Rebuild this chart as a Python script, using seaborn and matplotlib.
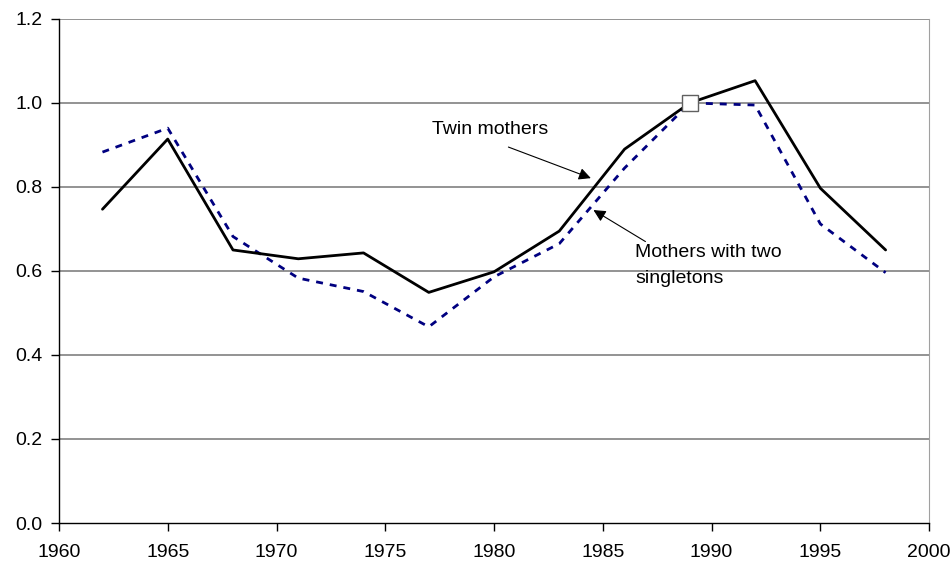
import matplotlib
matplotlib.use("Agg")
import matplotlib.pyplot as plt
import seaborn as sns
import pandas as pd

# data
years = [1962, 1965, 1968, 1971, 1974, 1977, 1980, 1983, 1986, 1989, 1992, 1995, 1998]
twin = [0.747, 0.914, 0.650, 0.629, 0.643, 0.549, 0.598, 0.695, 0.890, 1.0, 1.053, 0.797, 0.650]
singletons = [0.883, 0.940, 0.682, 0.583, 0.551, 0.467, 0.586, 0.665, 0.845, 1.0, 0.995, 0.712, 0.596]
ref_year = [1989]
ref_value = [1.0]
y_ticks = [0, 0.2, 0.4, 0.6, 0.8, 1.0, 1.2]

df = pd.DataFrame({"year": years, "twin": twin, "single": singletons})

sns.set_style("white")
plt.rcParams["font.family"] = ["Liberation Sans", "DejaVu Sans"]
plt.rcParams["text.color"] = "black"
plt.rcParams["xtick.labelcolor"] = "black"
plt.rcParams["ytick.labelcolor"] = "black"

fig = plt.figure(figsize=(9.51, 5.67), dpi=100)
ax = fig.add_axes([0.062, 0.0776, 0.915, 0.889])

for y in y_ticks[1:]:
    ax.axhline(y, color="#808080", lw=1.2, zorder=0)

sns.lineplot(data=df, x="year", y="single", ax=ax, color="#000080", lw=2,
             linestyle=(0, (2.5, 2.5)), zorder=2)
sns.lineplot(data=df, x="year", y="twin", ax=ax, color="black", lw=2, zorder=3)
ax.plot(ref_year, ref_value, marker="s", ms=11, mfc="white", mec="#606060",
        mew=1, ls="none", zorder=4)

ax.set_xlim(1960, 2000)
ax.set_ylim(0, 1.2)
ax.set_xticks(range(1960, 2001, 5))
ax.set_yticks(y_ticks)
ax.set_yticklabels([f"{v:.1f}" for v in y_ticks])
ax.set_xlabel("")
ax.set_ylabel("")
ax.tick_params(axis="both", direction="out", length=6, width=1, color="black",
               labelcolor="black", labelsize=14, left=True, bottom=True)
ax.tick_params(axis="x", pad=9)
ax.tick_params(axis="y", pad=6)

for side in ["left", "bottom"]:
    ax.spines[side].set_color("black")
    ax.spines[side].set_linewidth(1)
ax.spines["right"].set_color("#a0a0a0")
ax.spines["top"].set_visible(False)

arrow = dict(arrowstyle="-|>", color="black", lw=0.8, mutation_scale=18,
             shrinkA=0, shrinkB=0)
ax.text(1977.15, 0.926, "Twin mothers", fontsize=14, va="baseline", ha="left")
ax.annotate("", xy=(1984.45, 0.821), xytext=(1980.66, 0.895), arrowprops=arrow)
ax.text(1986.48, 0.634, "Mothers with two", fontsize=14, va="baseline", ha="left")
ax.text(1986.48, 0.571, "singletons", fontsize=14, va="baseline", ha="left")
ax.annotate("", xy=(1984.57, 0.745), xytext=(1986.96, 0.670), arrowprops=arrow)

fig.savefig("out.png", dpi=100)
